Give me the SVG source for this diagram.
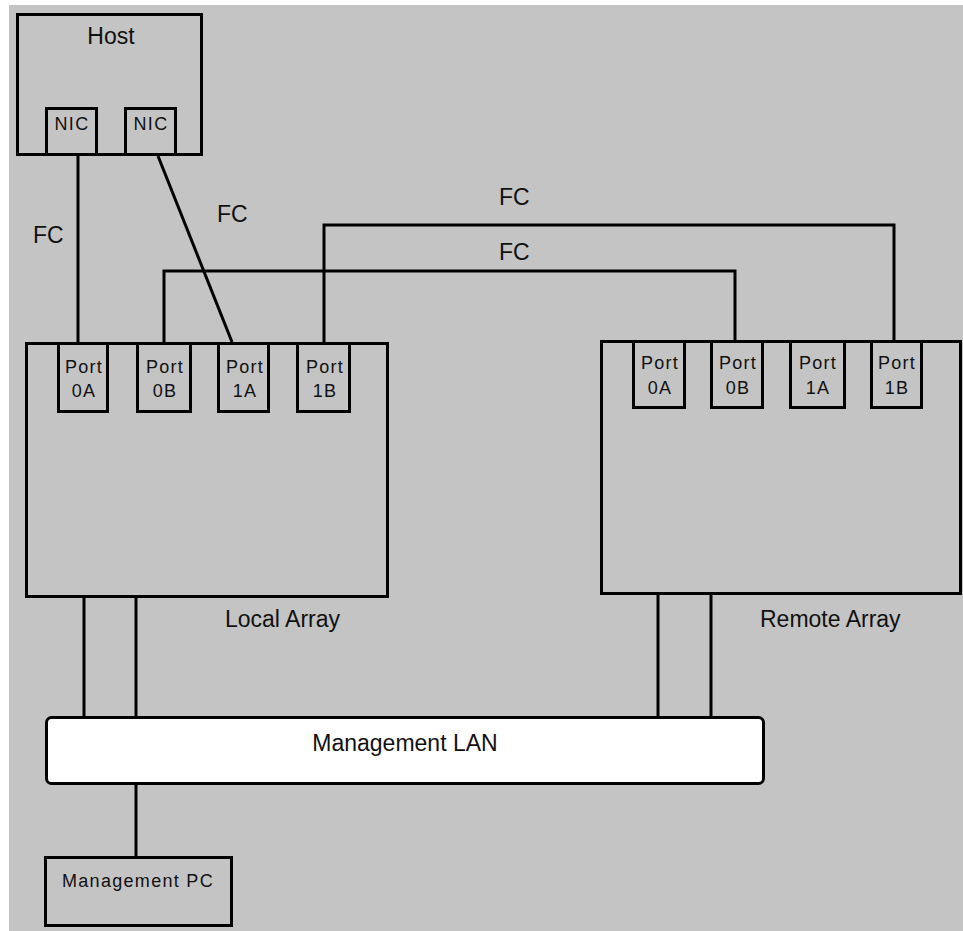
<svg xmlns="http://www.w3.org/2000/svg" width="963" height="931" viewBox="0 0 963 931">
<style>
.box{fill:none;stroke:#000;stroke-width:3;stroke-linejoin:miter}
.con{fill:none;stroke:#000;stroke-width:3}
.big{font-family:"Liberation Sans",Arial,sans-serif;font-size:23px;fill:#111}
.sm{font-family:"Liberation Sans",Arial,sans-serif;font-size:18px;fill:#111;letter-spacing:1.3px;text-anchor:middle}
</style>
<rect x="0" y="0" width="963" height="931" fill="#ffffff"/>
<rect x="9" y="5" width="954" height="926" fill="#c4c4c4"/>
<g id="connectors">
<line class="con" x1="78" y1="156" x2="78" y2="342"/>
<line class="con" x1="158" y1="156" x2="232" y2="342"/>
<polyline class="con" points="164,342 164,271 735,271 735,340"/>
<polyline class="con" points="324,342 324,225 894,225 894,340"/>
<line class="con" x1="84" y1="598" x2="84" y2="717"/>
<line class="con" x1="136" y1="598" x2="136" y2="717"/>
<line class="con" x1="658" y1="595" x2="658" y2="717"/>
<line class="con" x1="711" y1="595" x2="711" y2="717"/>
<line class="con" x1="136" y1="784" x2="136" y2="857"/>
<text class="big" x="33" y="243">FC</text>
<text class="big" x="217" y="222">FC</text>
<text class="big" x="499" y="205">FC</text>
<text class="big" x="499" y="260">FC</text>
</g>
<g id="host">
<rect class="box" x="17.5" y="14.5" width="184" height="140"/>
<text class="big" x="111" y="44" text-anchor="middle">Host</text>
</g>
<g id="nic1">
<rect class="box" x="46.5" y="108.5" width="50" height="46"/>
<text class="sm" x="72" y="130">NIC</text>
</g>
<g id="nic2">
<rect class="box" x="125.5" y="108.5" width="50" height="46"/>
<text class="sm" x="151" y="130">NIC</text>
</g>
<g id="local-array">
<rect class="box" x="26.5" y="343.5" width="361" height="253"/>
<text class="big" x="225" y="627">Local Array</text>
</g>
<g id="local-port-0a">
<rect class="box" x="58.5" y="343.5" width="49" height="68"/>
<text class="sm" x="84" y="373">Port</text><text class="sm" x="84" y="397">0A</text>
</g>
<g id="local-port-0b">
<rect class="box" x="137.5" y="343.5" width="53" height="68"/>
<text class="sm" x="165" y="373">Port</text><text class="sm" x="165" y="397">0B</text>
</g>
<g id="local-port-1a">
<rect class="box" x="218.5" y="343.5" width="50" height="68"/>
<text class="sm" x="245" y="373">Port</text><text class="sm" x="245" y="397">1A</text>
</g>
<g id="local-port-1b">
<rect class="box" x="297.5" y="343.5" width="52" height="68"/>
<text class="sm" x="325" y="373">Port</text><text class="sm" x="325" y="397">1B</text>
</g>
<g id="remote-array">
<rect class="box" x="601.5" y="341.5" width="359" height="252"/>
<text class="big" x="760" y="627">Remote Array</text>
</g>
<g id="remote-port-0a">
<rect class="box" x="633.5" y="341.5" width="51" height="66"/>
<text class="sm" x="660" y="369">Port</text><text class="sm" x="660" y="394">0A</text>
</g>
<g id="remote-port-0b">
<rect class="box" x="711.5" y="341.5" width="51" height="66"/>
<text class="sm" x="738" y="369">Port</text><text class="sm" x="738" y="394">0B</text>
</g>
<g id="remote-port-1a">
<rect class="box" x="790.5" y="341.5" width="54" height="66"/>
<text class="sm" x="818" y="369">Port</text><text class="sm" x="818" y="394">1A</text>
</g>
<g id="remote-port-1b">
<rect class="box" x="871.5" y="341.5" width="50" height="66"/>
<text class="sm" x="897" y="369">Port</text><text class="sm" x="897" y="394">1B</text>
</g>
<g id="management-lan">
<rect x="46.5" y="717.5" width="717" height="66" rx="5" fill="#ffffff" stroke="#000" stroke-width="3"/>
<text class="big" x="405" y="751" text-anchor="middle">Management LAN</text>
</g>
<g id="management-pc">
<rect class="box" x="45.5" y="857.5" width="186" height="68"/>
<text class="sm" x="138" y="887">Management PC</text>
</g>
</svg>
